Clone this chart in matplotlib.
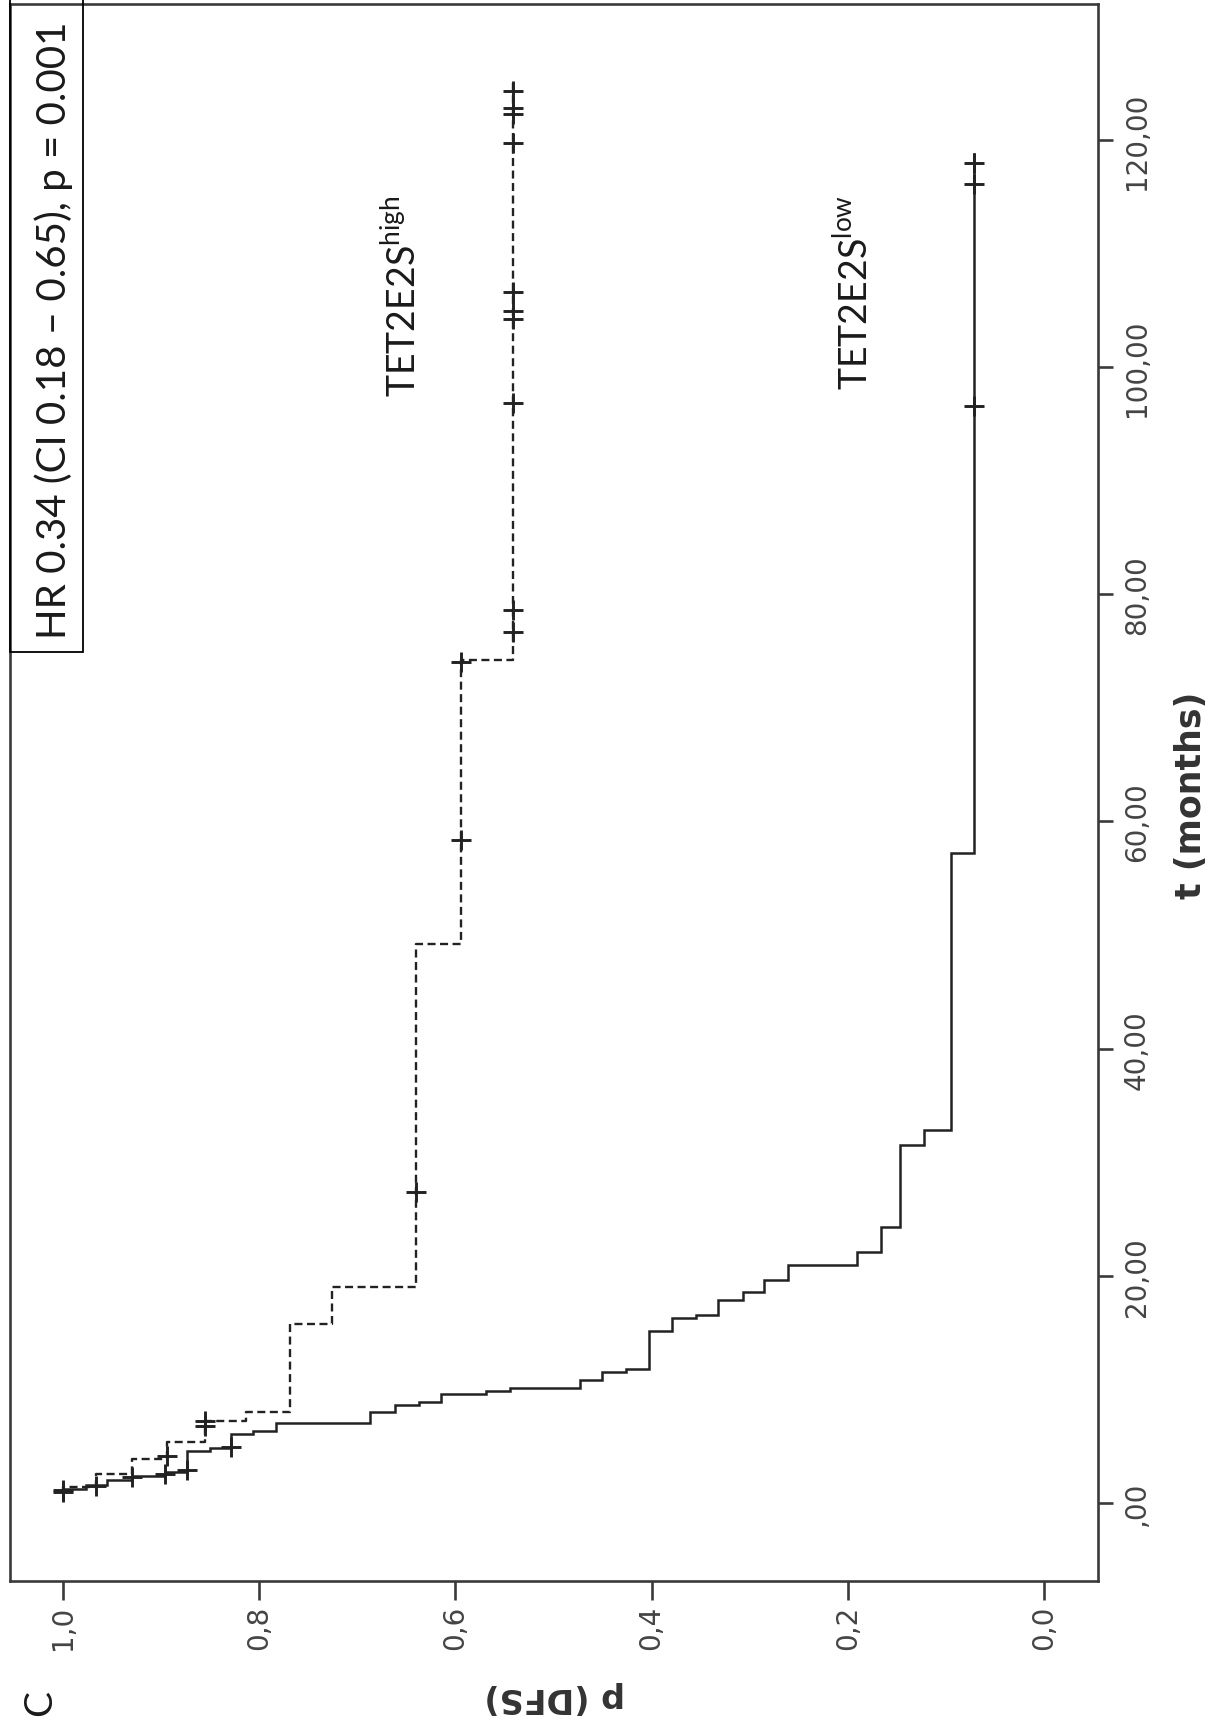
import matplotlib
matplotlib.use("Agg")
import matplotlib.pyplot as plt
from matplotlib.patches import Rectangle

start_t = 0.9

low_times = [1.2, 1.6, 2.0, 2.4, 2.7, 4.6, 4.8, 6.07, 6.36, 7.0, 8.03, 8.64,
             8.9, 9.56, 9.85, 10.1, 10.84, 11.57, 11.82, 15.1, 16.3, 16.57,
             17.84, 18.57, 19.66, 20.98, 22.07, 24.3, 31.5, 32.8, 57.2]
low_surv = [0.977, 0.955, 0.930, 0.896, 0.874, 0.850, 0.829, 0.806, 0.783,
            0.687, 0.662, 0.637, 0.615, 0.569, 0.544, 0.473, 0.451, 0.426,
            0.403, 0.379, 0.355, 0.332, 0.307, 0.285, 0.261, 0.191, 0.166,
            0.147, 0.122, 0.095, 0.071]
low_end = 118.8
low_cens_t = [0.95, 2.26, 2.55, 2.9, 4.9, 96.6, 116.1, 118.0]
low_cens_p = [1.0, 0.930, 0.896, 0.874, 0.829, 0.071, 0.071, 0.071]

high_times = [1.4, 2.55, 3.87, 5.34, 7.25, 8.0, 15.8, 19.05, 49.2, 74.2]
high_surv = [0.966, 0.930, 0.894, 0.855, 0.813, 0.769, 0.726, 0.640, 0.594,
             0.541]
high_end = 125.0
high_cens_t = [1.1, 1.52, 4.1, 6.8, 7.2, 27.4, 58.4, 74.0, 76.7, 78.6, 96.8,
               104.2, 104.9, 106.6, 119.7, 122.3, 122.8, 124.3]
high_cens_p = [1.0, 0.966, 0.894, 0.855, 0.855, 0.640, 0.594, 0.594, 0.541,
               0.541, 0.541, 0.541, 0.541, 0.541, 0.541, 0.541, 0.541, 0.541]

p_ticks = [1.0, 0.8, 0.6, 0.4, 0.2, 0.0]
p_labels = ["1,0", "0,8", "0,6", "0,4", "0,2", "0,0"]
t_ticks = [0, 20, 40, 60, 80, 100, 120]
t_labels = [",00", "20,00", "40,00", "60,00", "80,00", "100,00", "120,00"]

plt.rcParams["font.family"] = ["Lato", "DejaVu Sans"]
plt.rcParams["mathtext.fontset"] = "custom"
plt.rcParams["mathtext.rm"] = "Lato"

W, H = 1216, 1731


def fx(px):
    return px / W


def fy(py):
    return 1 - py / H


def km_path(times, surv, start, end):
    ts, ps = [start], [1.0]
    cur = 1.0
    for t, s in zip(times, surv):
        ts += [t, t]
        ps += [cur, s]
        cur = s
    ts.append(end)
    ps.append(cur)
    return ps, ts


fig = plt.figure(figsize=(W / 100, H / 100), dpi=100)
ax = fig.add_axes([fx(10), fy(1582), (1098 - 10) / W, (1582 - 5) / H])

line_col = "#222222"
ps, ts = km_path(low_times, low_surv, start_t, low_end)
ax.plot(ps, ts, color=line_col, lw=1.8, solid_joinstyle="miter")
ps, ts = km_path(high_times, high_surv, start_t, high_end)
ax.plot(ps, ts, color=line_col, lw=1.7, ls=(0, (3.4, 1.9)))

ax.plot(low_cens_p, low_cens_t, ls="none", marker="+", ms=15, mew=2.1,
        color=line_col)
ax.plot(high_cens_p, high_cens_t, ls="none", marker="+", ms=15, mew=2.1,
        color=line_col)

ax.set_xlim(1.054, -0.055)
ax.set_ylim(-6.87, 131.97)

for s in ax.spines.values():
    s.set_color("#3a3a3a")
    s.set_linewidth(1.9)

ax.set_xticks(p_ticks)
ax.set_xticklabels(p_labels, rotation=90, family="DejaVu Sans",
                   fontsize=20, color="#444444")
ax.set_yticks(t_ticks)
ax.set_yticklabels(t_labels, rotation=90, family="DejaVu Sans",
                   fontsize=20, color="#444444", va="center")
ax.yaxis.tick_right()
ax.tick_params(axis="x", direction="out", length=14, width=1.9,
               color="#3a3a3a", pad=3)
ax.tick_params(axis="y", direction="out", length=11, width=1.9,
               color="#3a3a3a", pad=7)

# annotation box with hazard ratio
fig.add_artist(Rectangle((fx(10), fy(653)), (83 - 10) / W, 653 / H,
                         transform=fig.transFigure, fill=False,
                         ec="black", lw=1.3))
fig.text(fx(66), fy(330), "HR 0.34 (CI 0.18 \u2013 0.65), p = 0.001",
         rotation=90, rotation_mode="anchor", ha="center", va="baseline",
         fontsize=29, color="#1a1a1a")

fig.text(fx(415), fy(296), r"TET2E2S$^{\mathrm{high}}$", rotation=90,
         rotation_mode="anchor", ha="center", va="baseline", fontsize=27,
         color="#1a1a1a")
fig.text(fx(867), fy(292), r"TET2E2S$^{\mathrm{low}}$", rotation=90,
         rotation_mode="anchor", ha="center", va="baseline", fontsize=27,
         color="#1a1a1a")

fig.text(fx(555), fy(1698), "p (DFS)", rotation=180, ha="center",
         va="center", fontsize=24, fontweight="bold", family="DejaVu Sans",
         color="#333333")
fig.text(fx(1191), fy(795), "t (months)", rotation=90, ha="center",
         va="center", fontsize=25, fontweight="bold", family="DejaVu Sans",
         color="#333333")
fig.text(fx(40), fy(1703), "C", rotation=90, ha="center", va="center",
         fontsize=28, color="#1a1a1a")

fig.savefig("out.png", dpi=100)
